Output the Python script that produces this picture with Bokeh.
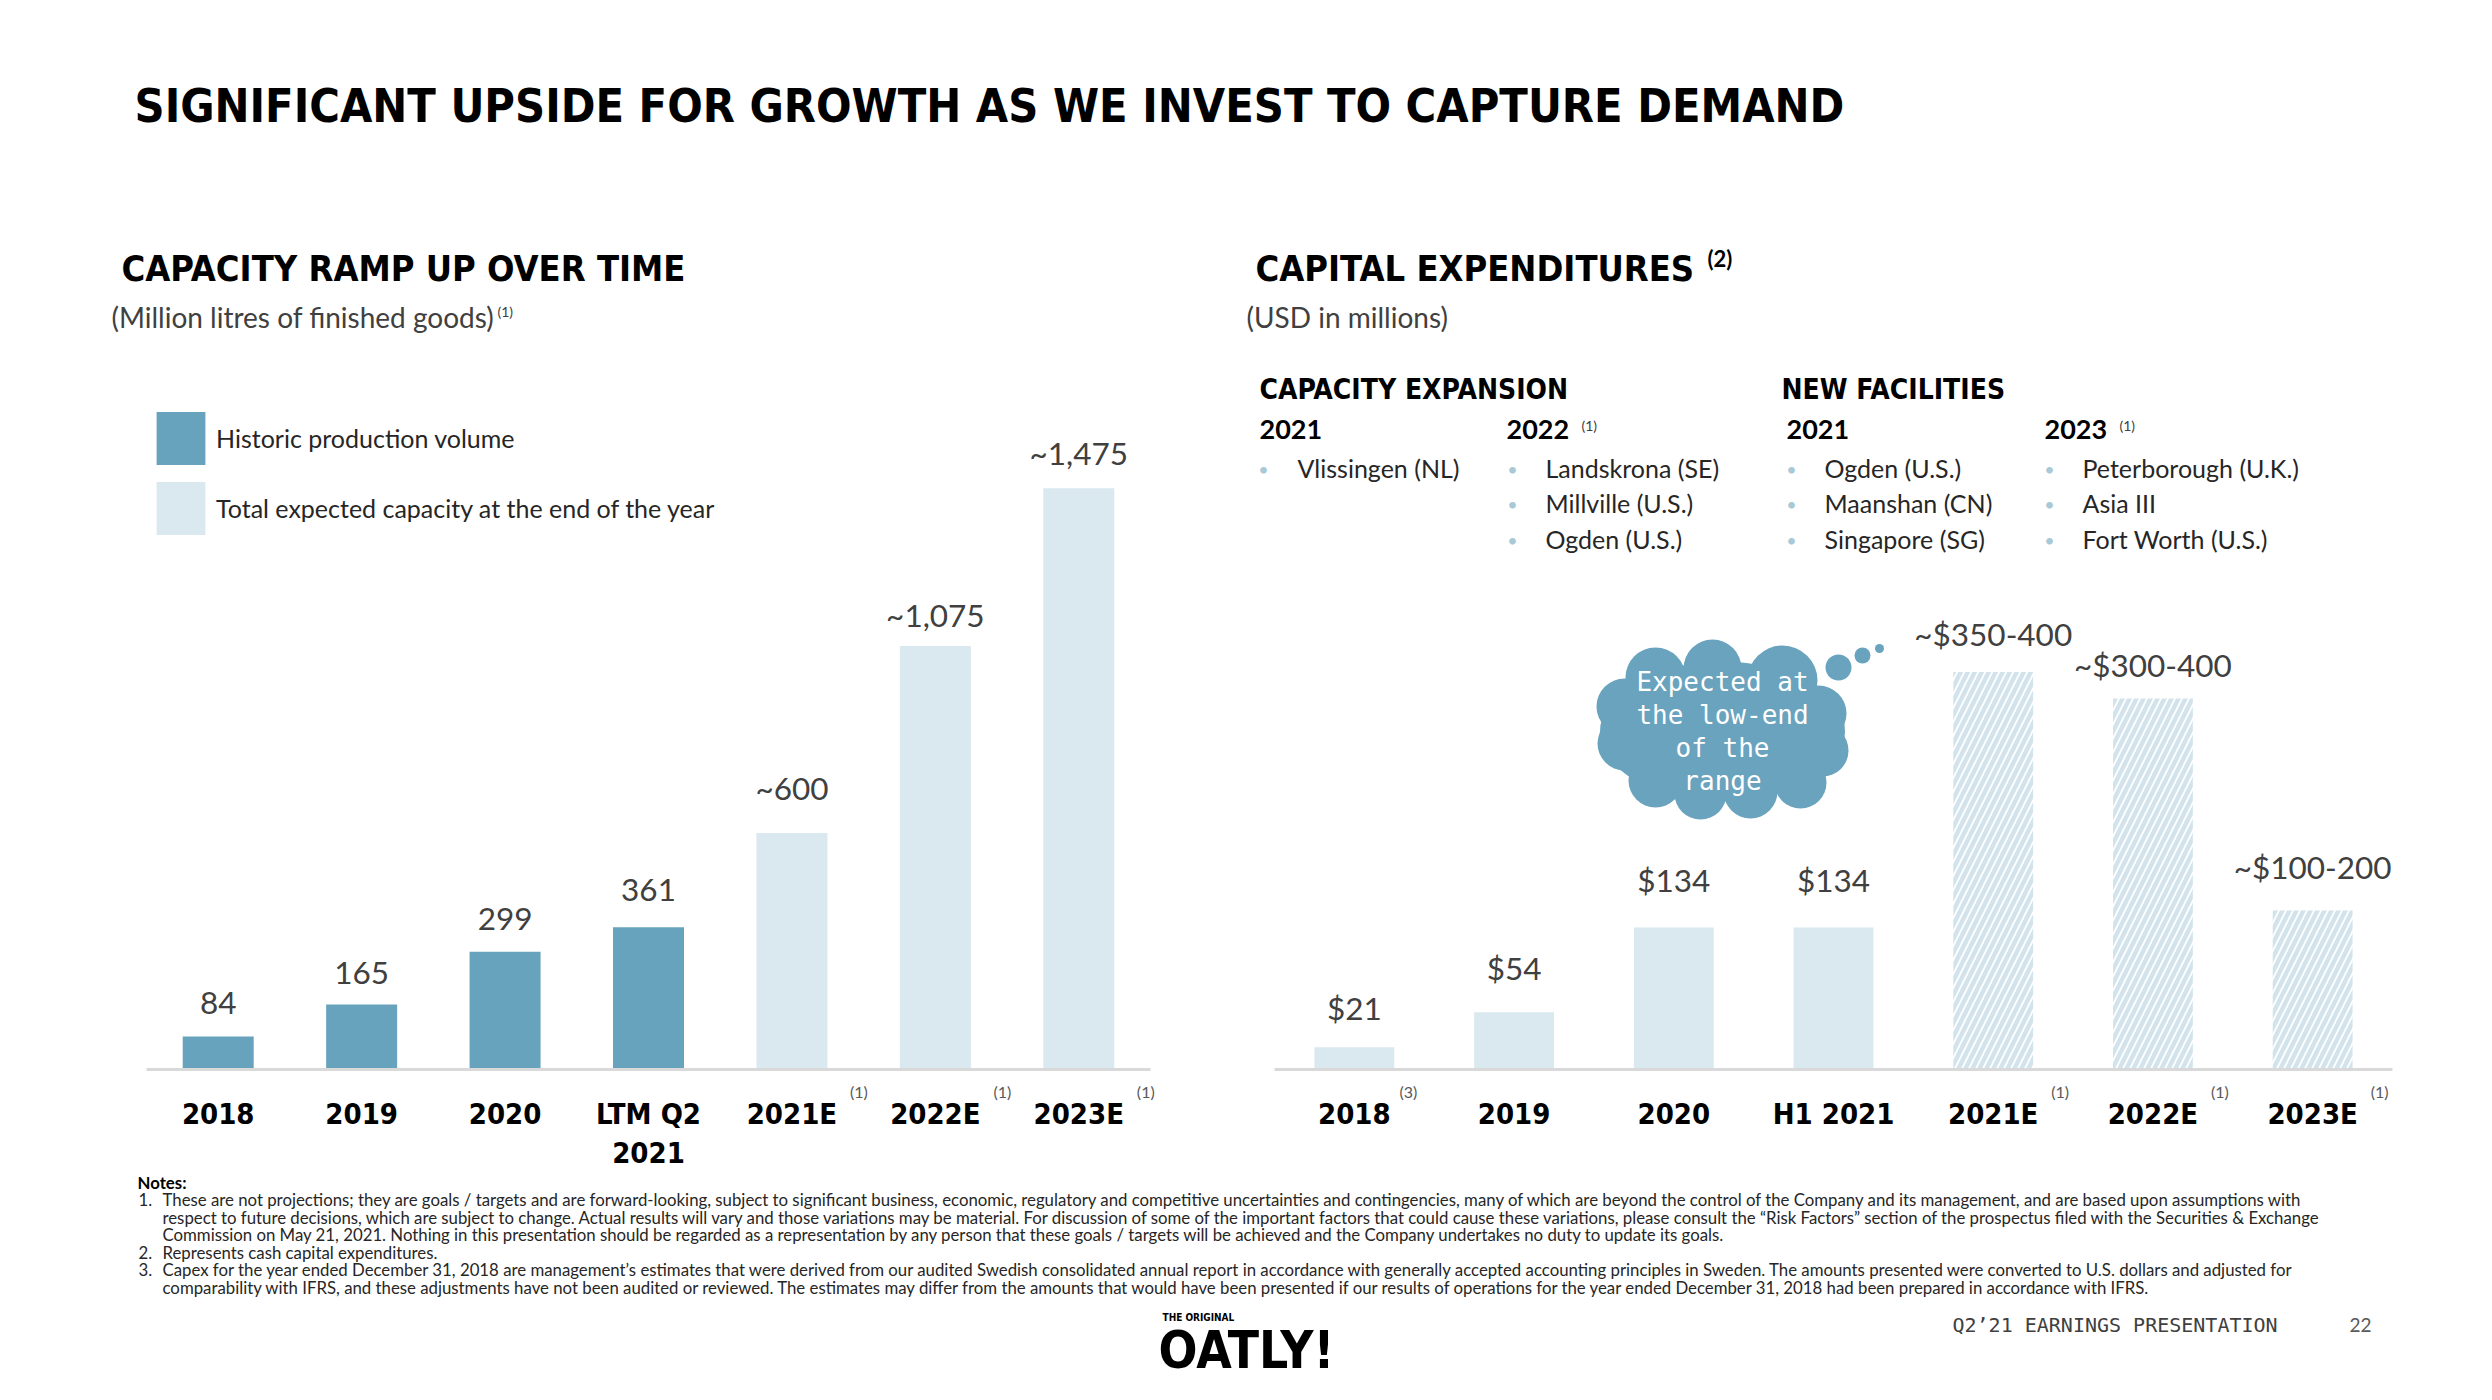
from bokeh.plotting import figure
from bokeh.models import ColumnDataSource, Range1d, Label, Legend, LegendItem
from bokeh.layouts import column, row
from bokeh.embed import file_html
from bokeh.resources import INLINE
from bokeh.core.properties import value

# ---------------- data ----------------
title_text = "SIGNIFICANT UPSIDE FOR GROWTH AS WE INVEST TO CAPTURE DEMAND"

cap_categories = ["2018", "2019", "2020", "LTM Q2\n2021", "2021E", "2022E", "2023E"]
cap_values = [84, 165, 299, 361, 600, 1075, 1475]
cap_estimated = [False, False, False, False, True, True, True]
cap_notes = ["", "", "", "", "(1)", "(1)", "(1)"]
cap_legend = ["Historic production volume", "Total expected capacity at the end of the year"]

capex_categories = ["2018", "2019", "2020", "H1 2021", "2021E", "2022E", "2023E"]
capex_values = [21, 54, 134, 134, 375, 350, 150]
capex_labels = ["$21", "$54", "$134", "$134", "~$350-400", "~$300-400", "~$100-200"]
capex_estimated = [False, False, False, False, True, True, True]
capex_notes = ["(3)", "", "", "", "(1)", "(1)", "(1)"]

expansion_2021 = ["Vlissingen (NL)"]
expansion_2022 = ["Landskrona (SE)", "Millville (U.S.)", "Ogden (U.S.)"]
new_2021 = ["Ogden (U.S.)", "Maanshan (CN)", "Singapore (SG)"]
new_2023 = ["Peterborough (U.K.)", "Asia III", "Fort Worth (U.S.)"]

cloud_text = ["Expected at", "the low-end", "of the", "range"]

notes = [
    ("1.", "These are not projections; they are goals / targets and are forward-looking, subject to significant business, economic, regulatory and competitive uncertainties and contingencies, many of which are beyond the control of the Company and its management, and are based upon assumptions with"),
    ("", "respect to future decisions, which are subject to change. Actual results will vary and those variations may be material. For discussion of some of the important factors that could cause these variations, please consult the \u201cRisk Factors\u201d section of the prospectus filed with the Securities & Exchange"),
    ("", "Commission on May 21, 2021. Nothing in this presentation should be regarded as a representation by any person that these goals / targets will be achieved and the Company undertakes no duty to update its goals."),
    ("2.", "Represents cash capital expenditures."),
    ("3.", "Capex for the year ended December 31, 2018 are management\u2019s estimates that were derived from our audited Swedish consolidated annual report in accordance with generally accepted accounting principles in Sweden. The amounts presented were converted to U.S. dollars and adjusted for"),
    ("", "comparability with IFRS, and these adjustments have not been audited or reviewed. The estimates may differ from the amounts that would have been presented if our results of operations for the year ended December 31, 2018 had been prepared in accordance with IFRS."),
]

# ---------------- style ----------------
DISPLAY = "DejaVu Sans Condensed"
BODY = "Lato"
MONO = "DejaVu Sans Mono"
DARK = "#67A3BD"
LIGHT = "#DAE8EF"
HATCH = "#D3E3EC"
AXIS = "#D9D9D9"
TXT = "#262626"
VAL = "#404040"
SUP = "#595959"
BULLET = "#A9C9D7"
CLOUD = "#69A3BE"

# screen gap (px) between each bar top and the centre of its value label
cap_label_gap = [33, 31, 33, 37, 45, 31, 35]
capex_label_gap = [39, 44, 47, 47, 38, 34, 44]

PAGE_W = 2492
X0 = 0
ROW_TOP, ROW_BOT, PAGE_BOT = 200, 1173, 1398
BASE = 1069          # y of the bar baseline on the page


def sheet(y_top, y_bot):
    p = figure(width=PAGE_W, height=y_bot - y_top,
               x_range=Range1d(X0, X0 + PAGE_W), y_range=Range1d(y_bot, y_top),
               x_axis_location=None, y_axis_location=None,
               toolbar_location=None, output_backend="svg",
               min_border=0, outline_line_color=None)
    p.grid.visible = False
    return p, (lambda X: X), (lambda Y: Y)


def chart(fx0, fx1, bar_x0, bar_x1, n, px_per_unit):
    ux = (bar_x1 - bar_x0) / n
    cx = lambda X: (X - bar_x0) / ux - 0.5
    cy = lambda Y: (BASE - Y) / px_per_unit
    p = figure(width=fx1 - fx0, height=ROW_BOT - ROW_TOP,
               x_range=Range1d(cx(fx0), cx(fx1)),
               y_range=Range1d(cy(ROW_BOT), cy(ROW_TOP)),
               x_axis_location=None, y_axis_location=None,
               toolbar_location=None, output_backend="svg",
               min_border=0, outline_line_color=None)
    p.grid.visible = False
    return p, cx, cy, ux


def label(p, cx, cy, X, Y, text, font=BODY, size=24, color=TXT, style="normal",
          align="left"):
    p.add_layout(Label(x=cx(X), y=cy(Y), text=text, text_font=font,
                       text_font_size=f"{size}px", text_color=color,
                       text_font_style=style, text_align=align,
                       text_baseline="middle"))


def category_axis(p, cy, ux, categories, notes_list):
    n = len(categories)
    p.segment(x0=[-0.5], y0=[0], x1=[n - 0.5], y1=[0], line_color=AXIS, line_width=3)
    xs, ys, ts = [], [], []
    for i, c in enumerate(categories):
        for k, line in enumerate(c.split("\n")):
            xs.append(i)
            ys.append(cy(1113 + 38.5 * k))
            ts.append(line)
    p.text(x=xs, y=ys, text=ts, text_font=value(DISPLAY), text_font_style="bold",
           text_font_size="29px", text_color="#000000", text_align="center",
           text_baseline="middle")
    sx, sy, st = [], [], []
    for i, (c, note) in enumerate(zip(categories, notes_list)):
        if note:
            sx.append(i + (13 * len(c.split("\n")[0]) + 2) / ux)
            sy.append(cy(1091))
            st.append(note)
    p.text(x=sx, y=sy, text=st, text_font=value(BODY), text_font_size="16px",
           text_color=SUP, text_align="center", text_baseline="middle")


def value_labels(p, xs, vals, texts, gaps):
    p.text(x="x", y="val", text="lab", y_offset="off",
           source=ColumnDataSource(dict(x=xs, val=vals, lab=texts, off=[-g for g in gaps])),
           text_font=value(BODY), text_font_size="31.5px", text_color=VAL,
           text_align="center", text_baseline="middle")


# ---------------- title sheet ----------------
pT, tx, ty = sheet(0, ROW_TOP)
label(pT, tx, ty, 134, 105, title_text, font=DISPLAY, size=46.5, color="#000000", style="bold")

# ---------------- left chart ----------------
pL, lcx, lcy, lux = chart(0, 1240, 146, 1150, len(cap_categories), 0.394)
cap_x = list(range(len(cap_categories)))

hist_src = ColumnDataSource(dict(
    x=[x for x, e in zip(cap_x, cap_estimated) if not e],
    val=[v for v, e in zip(cap_values, cap_estimated) if not e]))
est_src = ColumnDataSource(dict(
    x=[x for x, e in zip(cap_x, cap_estimated) if e],
    val=[v for v, e in zip(cap_values, cap_estimated) if e]))
r_hist = pL.vbar(x="x", top="val", width=0.495, source=hist_src, fill_color=DARK, line_color=None)
r_est = pL.vbar(x="x", top="val", width=0.495, source=est_src, fill_color=LIGHT, line_color=None)

cap_text = [("~" if e else "") + f"{v:,}" for v, e in zip(cap_values, cap_estimated)]
value_labels(pL, cap_x, cap_values, cap_text, cap_label_gap)
category_axis(pL, lcy, lux, cap_categories, cap_notes)

legend = Legend(items=[LegendItem(label=cap_legend[0], renderers=[r_hist]),
                       LegendItem(label=cap_legend[1], renderers=[r_est])],
                location=(150, ROW_BOT - 541), glyph_width=61, glyph_height=66,
                label_height=66, spacing=4, padding=0, margin=0, label_standoff=5,
                border_line_color=None, background_fill_alpha=0,
                label_text_font=BODY, label_text_font_size="25px", label_text_color=TXT)
pL.add_layout(legend)

label(pL, lcx, lcy, 121, 267.5, "CAPACITY RAMP UP OVER TIME", font=DISPLAY, size=36, color="#000000", style="bold")
label(pL, lcx, lcy, 111, 316, "(Million litres of finished goods)", size=28, color=VAL)
label(pL, lcx, lcy, 497, 311, "(1)", size=14, color=VAL)

# ---------------- right chart ----------------
pR, rcx, rcy, rux = chart(1240, 2492, 1274, 2392, len(capex_categories), 1.06)
capex_x = list(range(len(capex_categories)))

act_src = ColumnDataSource(dict(
    x=[x for x, e in zip(capex_x, capex_estimated) if not e],
    val=[v for v, e in zip(capex_values, capex_estimated) if not e]))
fc_src = ColumnDataSource(dict(
    x=[x for x, e in zip(capex_x, capex_estimated) if e],
    val=[v for v, e in zip(capex_values, capex_estimated) if e]))
pR.vbar(x="x", top="val", width=0.5, source=act_src, fill_color=LIGHT, line_color=None)
pR.vbar(x="x", top="val", width=0.5, source=fc_src, fill_color="white", line_color=None,
        hatch_pattern="/", hatch_color=HATCH, hatch_scale=14, hatch_weight=4.5)

value_labels(pR, capex_x, capex_values, capex_labels, capex_label_gap)
category_axis(pR, rcy, rux, capex_categories, capex_notes)

label(pR, rcx, rcy, 1255, 267.5, "CAPITAL EXPENDITURES", font=DISPLAY, size=36, color="#000000", style="bold")
label(pR, rcx, rcy, 1707, 258, "(2)", size=22, color="#000000", style="bold")
label(pR, rcx, rcy, 1246, 316, "(USD in millions)", size=28, color=VAL)

label(pR, rcx, rcy, 1259, 388.5, "CAPACITY EXPANSION", font=DISPLAY, size=28, color="#000000", style="bold")
label(pR, rcx, rcy, 1781, 388.5, "NEW FACILITIES", font=DISPLAY, size=28, color="#000000", style="bold")

columns = [
    (1259, "2021", "", 1263, 1297, expansion_2021),
    (1506, "2022", "(1)", 1512, 1545, expansion_2022),
    (1786, "2021", "", 1791, 1824, new_2021),
    (2044, "2023", "(1)", 2049, 2082, new_2023),
]
row_centers = [467, 502, 538]
for hx, year, sup, bx, tx_, items in columns:
    label(pR, rcx, rcy, hx, 429, year, size=27, color="#000000", style="bold")
    if sup:
        label(pR, rcx, rcy, hx + 75, 425, sup, size=14, color=VAL)
    for item, yc in zip(items, row_centers):
        label(pR, rcx, rcy, bx, yc + 1, "\u2022", size=18, color=BULLET, align="center")
        label(pR, rcx, rcy, tx_, yc, item, size=25, color=TXT)

# thought cloud
lobes = [(1655, 677, 30), (1712, 668, 29), (1782, 680, 35), (1818, 713, 28),
         (1822, 750, 26), (1800, 782, 26), (1750, 791, 27), (1700, 793, 26),
         (1655, 780, 27), (1624, 743, 27), (1624, 706, 28),
         (1838, 667, 13), (1862, 655, 8), (1879, 648, 4.5)]
pR.circle(x=[rcx(a) for a, b, r in lobes], y=[rcy(b) for a, b, r in lobes],
          radius=[r for a, b, r in lobes], radius_units="screen",
          fill_color=CLOUD, line_color=None)
pR.ellipse(x=[rcx(1722)], y=[rcy(731)], width=245, height=140,
           width_units="screen", height_units="screen", fill_color=CLOUD, line_color=None)
cloud_centers = [681, 714, 747, 780]
pR.text(x=[rcx(1722)] * 4, y=[rcy(b) for b in cloud_centers], text=cloud_text,
        text_font=value(MONO), text_font_size="26px", text_color="white",
        text_align="center", text_baseline="middle")

# ---------------- notes sheet ----------------
pN, nx, ny = sheet(ROW_BOT, PAGE_BOT)
label(pN, nx, ny, 137, 1182, "Notes:", size=16.8, color="#000000", style="bold")
note_centers = [1199, 1216.6, 1234.2, 1251.8, 1269.4, 1287]
for (num, line), yc in zip(notes, note_centers):
    if num:
        label(pN, nx, ny, 138, yc, num, size=16.8, color=TXT)
    label(pN, nx, ny, 162, yc, line, size=16.8, color=TXT)

label(pN, nx, ny, 1162, 1316.5, "THE ORIGINAL", font=DISPLAY, size=10, color="#000000", style="bold")
label(pN, nx, ny, 1158, 1350, "OATLY!", font=DISPLAY, size=51, color="#000000", style="bold")
label(pN, nx, ny, 1952, 1324, "Q2\u201921 EARNINGS PRESENTATION", font=MONO, size=20, color=VAL)
label(pN, nx, ny, 2349, 1324, "22", size=19, color=SUP)

layout = column(pT, row(pL, pR), pN)
open("out.html", "w").write(file_html(layout, INLINE))
